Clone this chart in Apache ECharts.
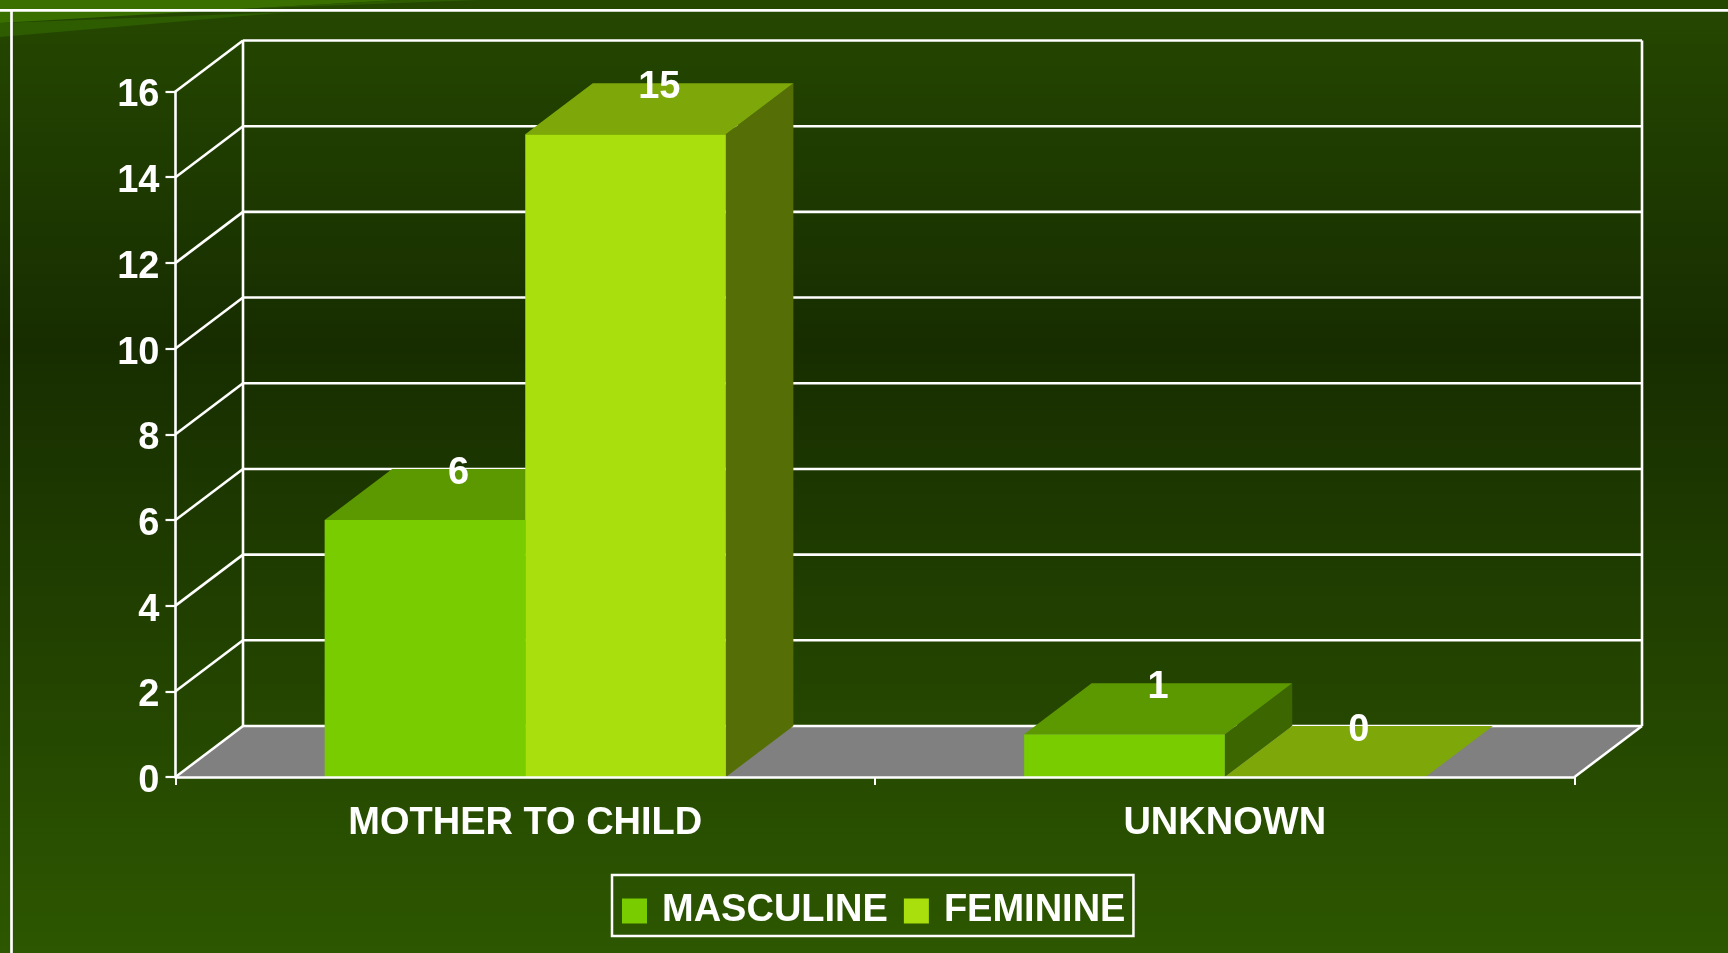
<!DOCTYPE html>
<html><head><meta charset="utf-8">
<style>html,body{margin:0;padding:0;background:#1a2f00}#c{width:1728px;height:953px}</style>
<script src="https://cdn.jsdelivr.net/npm/echarts@6/dist/echarts.min.js"></script>
</head><body><div id="c"></div>
<script>
const categories = ['MOTHER TO CHILD', 'UNKNOWN'];
const masculine = [6, 1];
const feminine = [15, 0];
const yTicks = [0, 2, 4, 6, 8, 10, 12, 14, 16];

const DX = 67.5, DY = -51, BAR_RATIO = 0.2868;
const FONT = '"Liberation Sans", Arial, sans-serif';
const chart = echarts.init(document.getElementById('c'), null, {renderer: 'canvas'});

function poly(points, fill, z2) {
  return {type: 'polygon', shape: {points}, style: {fill, stroke: null}, z2: z2 || 0};
}
function barRender(colors, offsetSign) {
  return function (params, api) {
    const cat = api.value(0), v = api.value(1);
    const base = api.coord([cat, 0]);
    const top = api.coord([cat, v]);
    const w = api.size([1, 0])[0] * BAR_RATIO;
    const x0 = offsetSign < 0 ? base[0] - w : base[0];
    const x1 = x0 + w, yb = base[1], yt = top[1];
    const children = [];
    if (v > 0) {
      children.push(poly([[x1, yb], [x1 + DX, yb + DY], [x1 + DX, yt + DY], [x1, yt]], colors.side));
      children.push({type: 'rect', shape: {x: x0, y: yt, width: w, height: yb - yt}, style: {fill: colors.front}});
    }
    children.push(poly([[x0, yt], [x1, yt], [x1 + DX, yt + DY], [x0 + DX, yt + DY]], colors.top));
    children.push({
      type: 'text', z2: 5,
      style: {
        text: String(v), x: (x0 + x1) / 2 + DX / 2, y: yt + DY + 4.5,
        fill: '#ffffff', font: 'bold 38px ' + FONT, textAlign: 'center', textVerticalAlign: 'middle'
      }
    });
    return {type: 'group', children};
  };
}
function wallRender(params, api) {
  const v = api.value(0);
  const cs = params.coordSys;
  const p = api.coord([0, v]);
  const xl = cs.x, xr = cs.x + cs.width, y = p[1];
  const line = {stroke: '#ffffff', lineWidth: 2.6};
  const children = [];
  if (v === 0) {
    children.push(poly([[xl, y], [xr, y], [xr + DX, y + DY], [xl + DX, y + DY]], '#808080'));
    children.push({type: 'line', shape: {x1: xl + DX, y1: y + DY, x2: xl + DX, y2: cs.y + DY}, style: line});
    children.push({type: 'line', shape: {x1: xr + DX, y1: y + DY, x2: xr + DX, y2: cs.y + DY}, style: line});
    children.push({type: 'line', shape: {x1: xr, y1: y, x2: xr + DX, y2: y + DY}, style: line});
  }
  children.push({type: 'line', shape: {x1: xl, y1: y, x2: xl + DX, y2: y + DY}, style: line});
  children.push({type: 'line', shape: {x1: xl + DX, y1: y + DY, x2: xr + DX, y2: y + DY}, style: line});
  return {type: 'group', children};
}

const gridL = 175.5, gridR = 1574.5, gridT = 91.5, gridB = 777;
chart.setOption({
  animation: false,
  backgroundColor: new echarts.graphic.LinearGradient(0, 0, 0, 1, [
    {offset: 0, color: '#254800'},
    {offset: 0.36, color: '#172d00'},
    {offset: 1, color: '#2d5700'}
  ]),
  graphic: [
    {type: 'polygon', shape: {points: [[0,0],[400,0],[240,9],[0,23]]}, style: {fill: '#397000'}, z: 0, silent: true},
    {type: 'polygon', shape: {points: [[400,0],[480,0],[240,9]]}, style: {fill: '#2e5c00'}, z: 0, silent: true},
    {type: 'polygon', shape: {points: [[0,23],[290,12],[0,37]]}, style: {fill: '#2e5c00'}, z: 0, silent: true},
    {type: 'line', shape: {x1: 0, y1: 10.4, x2: 1728, y2: 10.4}, style: {stroke: '#fff', lineWidth: 2.7}, z: 1, silent: true},
    {type: 'line', shape: {x1: 11.5, y1: 10, x2: 11.5, y2: 953}, style: {stroke: '#fff', lineWidth: 2.7}, z: 1, silent: true}
  ],
  grid: {left: gridL, top: gridT, width: gridR - gridL, height: gridB - gridT},
  legend: {
    data: ['MASCULINE', 'FEMININE'],
    left: 612, top: 875,
    orient: 'horizontal',
    padding: [17, 8, 6, 10],
    itemGap: 16, itemWidth: 25, itemHeight: 25, itemStyle: {borderWidth: 0},
    icon: 'rect',
    borderColor: '#ffffff', borderWidth: 2.5,
    selectedMode: false,
    textStyle: {color: '#fff', fontFamily: FONT, fontWeight: 'bold', fontSize: 38, padding: [0, 0, 0, 10]}
  },
  xAxis: {
    type: 'category', data: categories, z: 10,
    axisLine: {lineStyle: {color: '#fff', width: 2.7}},
    axisTick: {show: true, length: 8, lineStyle: {color: '#fff', width: 2}},
    axisLabel: {color: '#fff', fontFamily: FONT, fontWeight: 'bold', fontSize: 38, margin: 28},
    splitLine: {show: false}
  },
  yAxis: {
    type: 'value', min: 0, max: 16, interval: 2, z: 10,
    axisLine: {show: true, lineStyle: {color: '#fff', width: 2.6}},
    axisTick: {show: true, length: 10, lineStyle: {color: '#fff', width: 2.2}},
    axisLabel: {
      margin: 16,
      formatter: '{t|{value}}',
      rich: {t: {color: '#fff', fontFamily: FONT, fontWeight: 'bold', fontSize: 38, padding: [9, 0, 0, 0]}}
    },
    splitLine: {show: false}
  },
  series: [
    {
      type: 'custom', name: 'wall', silent: true, z: 1, clip: false,
      coordinateSystem: 'cartesian2d',
      encode: {y: 0},
      data: yTicks.map(v => [v]),
      renderItem: function (params, api) { return wallRender(params, api); }
    },
    {
      type: 'custom', name: 'MASCULINE', z: 3, clip: false,
      itemStyle: {color: '#79cc00'},
      encode: {x: 0, y: 1},
      data: masculine.map((v, i) => [i, v]),
      renderItem: barRender({front: '#79cc00', top: '#5c9900', side: '#3c6600'}, -1)
    },
    {
      type: 'custom', name: 'FEMININE', z: 4, clip: false,
      itemStyle: {color: '#a8df0c'},
      encode: {x: 0, y: 1},
      data: feminine.map((v, i) => [i, v]),
      renderItem: barRender({front: '#a8df0c', top: '#7ea80a', side: '#556f06'}, 1)
    }
  ]
});
</script></body></html>
